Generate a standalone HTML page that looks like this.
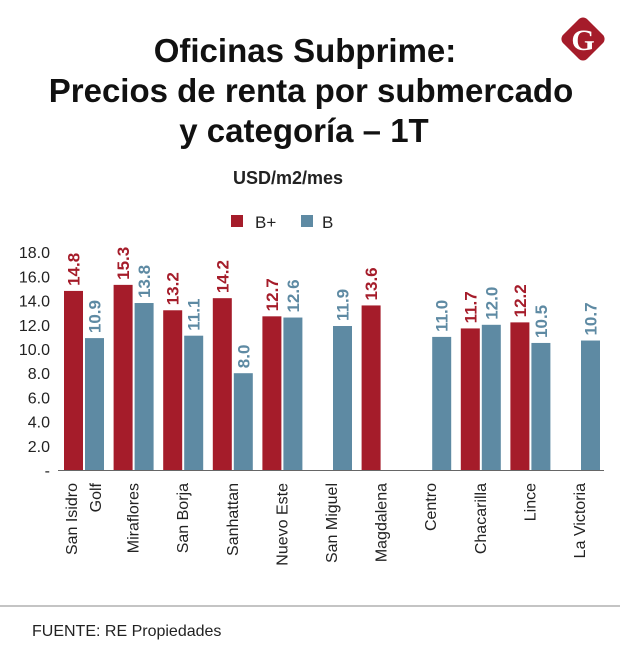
<!DOCTYPE html>
<html><head><meta charset="utf-8"><style>
body{margin:0;background:#fff;}
svg{display:block;font-family:"Liberation Sans",sans-serif;}
</style></head><body>
<svg id="chart" width="620" height="668" viewBox="0 0 620 668">
<g font-weight="bold" font-size="33" text-anchor="middle" fill="#111">
<text x="305" y="62">Oficinas Subprime:</text>
<text x="311" y="102">Precios de renta por submercado</text>
<text x="304" y="142">y categoría – 1T</text>
</g>
<g>
<rect x="566" y="22" width="34" height="34" rx="6" fill="#a51c2a" transform="rotate(45 583 39)"/>
<text x="583" y="50" text-anchor="middle" font-family="Liberation Serif,serif" font-weight="bold" font-size="30" fill="#fff">G</text>
</g>
<text x="288" y="184" text-anchor="middle" font-weight="bold" font-size="18" fill="#222">USD/m2/mes</text>
<g font-size="17" fill="#222">
<rect x="231" y="215" width="12" height="12" fill="#a51c2a"/>
<text x="255" y="228">B+</text>
<rect x="301" y="215" width="12" height="12" fill="#5e8aa3"/>
<text x="322" y="228">B</text>
</g>
<g id="plot"></g>
<line x1="0" y1="606" x2="620" y2="606" stroke="#888" stroke-width="1"/>
<text x="32" y="636" font-size="16" fill="#222">FUENTE: RE Propiedades</text>
</svg>
<script>
const categories=[["San Isidro","Golf"],["Miraflores"],["San Borja"],["Sanhattan"],["Nuevo Este"],["San Miguel"],["Magdalena"],["Centro"],["Chacarilla"],["Lince"],["La Victoria"]];
const seriesBplus=[14.8,15.3,13.2,14.2,12.7,null,13.6,null,11.7,12.2,null];
const seriesB=[10.9,13.8,11.1,8.0,12.6,11.9,null,11.0,12.0,10.5,10.7];
const yTicks=[0,2,4,6,8,10,12,14,16,18];
const NS="http://www.w3.org/2000/svg";
const plot=document.getElementById('plot');
const y0=470,pxPer=12.1,x0=64,step=49.6,bw=19,off=21;
function yS(v){return y0-v*pxPer;}
function xS(i,s){return x0+i*step+s*off;}
function mk(tag,attrs,txt){const e=document.createElementNS(NS,tag);for(const k in attrs)e.setAttribute(k,attrs[k]);if(txt!=null)e.textContent=txt;plot.appendChild(e);return e;}
yTicks.forEach(t=>{
  const e=mk('text',{x:50,y:yS(t)+6,'text-anchor':'end','font-size':'16',fill:'#222'},t===0?'-':t.toFixed(1));
  
  
});
[[seriesBplus,0,'#a51c2a','bplus'],[seriesB,1,'#5e8aa3','b']].forEach(([arr,s,col,nm])=>{
  arr.forEach((v,i)=>{
    if(v==null)return;
    const r=mk('rect',{x:xS(i,s),y:yS(v),width:bw,height:y0-yS(v),fill:col});
    
    
    const cx=xS(i,s)+bw/2+6,cy=yS(v)-5;
    const t=mk('text',{x:cx,y:cy,transform:`rotate(-90 ${cx} ${cy})`,'font-size':'17','font-weight':'bold',fill:col},v.toFixed(1));
    
    
  });
});
const ax=mk('line',{x1:58,y1:y0+0.5,x2:604,y2:y0+0.5,stroke:'#666','stroke-width':1});


categories.forEach((lines,i)=>{
  const cx=x0+i*step+20;
  lines.forEach((ln,j)=>{
    const lx=cx+5-(lines.length-1)*12+j*24,ly=483;
    const t=mk('text',{x:lx,y:ly,transform:`rotate(-90 ${lx} ${ly})`,'text-anchor':'end','font-size':'16',fill:'#222'},ln);
    
    
  });
});
</script>
</body></html>
